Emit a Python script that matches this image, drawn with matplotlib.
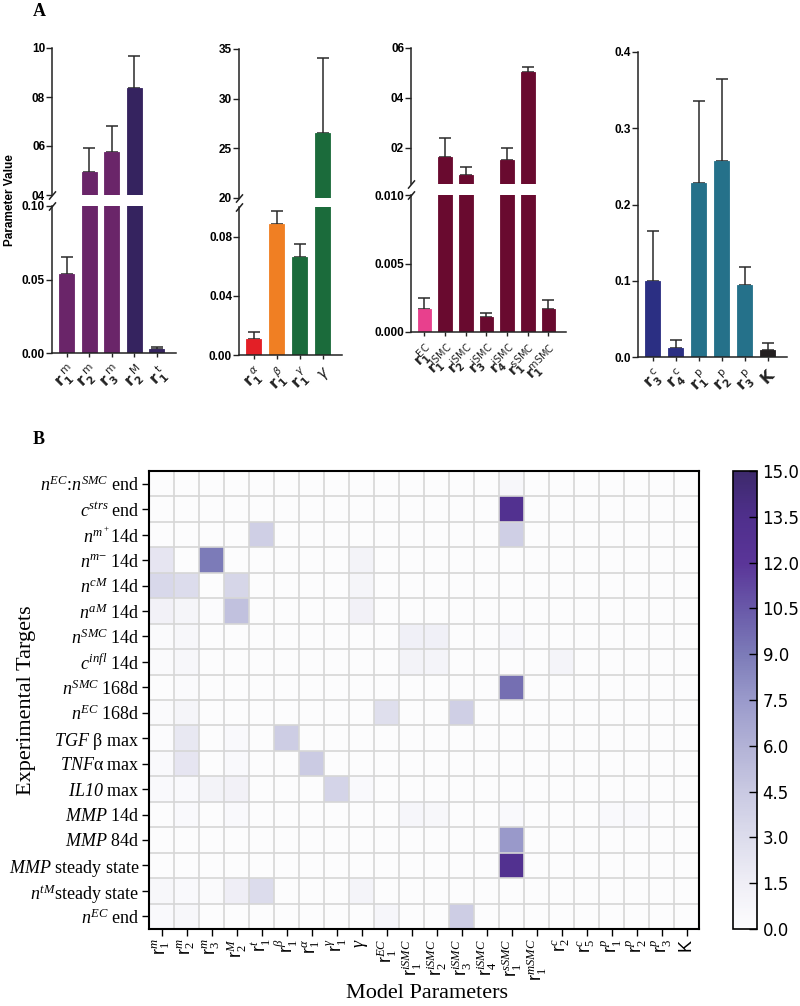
import numpy as np
import matplotlib.pyplot as plt
from matplotlib.colors import LinearSegmentedColormap

W, H = 800, 1006

plt.rcParams['mathtext.rm'] = 'Liberation Serif'
plt.rcParams['mathtext.it'] = 'Liberation Serif:italic'
plt.rcParams['mathtext.bf'] = 'Liberation Serif:bold'
plt.rcParams['mathtext.fallback'] = 'stix'

# ---------------- panel A data ----------------
g1_labels = [r'$\mathbf{r}_{\mathbf{1}}^{\ \mathrm{m}}$', r'$\mathbf{r}_{\mathbf{2}}^{\ \mathrm{m}}$',
             r'$\mathbf{r}_{\mathbf{3}}^{\ \mathrm{m}}$', r'$\mathbf{r}_{\mathbf{2}}^{\ \mathrm{M}}$',
             r'$\mathbf{r}_{\mathbf{1}}^{\ \mathrm{t}}$']
g1_vals = [0.054, 0.494, 0.576, 0.837, 0.003]
g1_err = [0.011, 0.096, 0.104, 0.130, 0.0008]
g1_cols = ['#6a2569', '#6a2569', '#6a2569', '#35235f', '#35235f']

g2_labels = [r'$\mathbf{r}_{\mathbf{1}}^{\ \alpha}$', r'$\mathbf{r}_{\mathbf{1}}^{\ \beta}$',
             r'$\mathbf{r}_{\mathbf{1}}^{\ \gamma}$', r'$\gamma$']
g2_vals = [0.0105, 0.0888, 0.0664, 26.5]
g2_err = [0.005, 0.0088, 0.0086, 7.6]
g2_cols = ['#e31f26', '#f07f23', '#1b6b3b', '#1b6b3b']

g3_labels = [r'$\mathbf{r}_{\mathbf{1}}^{\mathrm{EC}}$', r'$\mathbf{r}_{\mathbf{1}}^{\mathrm{iSMC}}$',
             r'$\mathbf{r}_{\mathbf{2}}^{\mathrm{iSMC}}$', r'$\mathbf{r}_{\mathbf{3}}^{\mathrm{iSMC}}$',
             r'$\mathbf{r}_{\mathbf{4}}^{\mathrm{iSMC}}$', r'$\mathbf{r}_{\mathbf{1}}^{\mathrm{sSMC}}$',
             r'$\mathbf{r}_{\mathbf{1}}^{\mathrm{mSMC}}$']
g3_vals = [0.0017, 0.164, 0.092, 0.0011, 0.152, 0.504, 0.0017]
g3_err = [0.0008, 0.076, 0.032, 0.0003, 0.046, 0.020, 0.0006]
g3_cols = ['#e8408d'] + ['#690a2f'] * 6

g4_labels = [r'$\mathbf{r}_{\mathbf{3}}^{\ \mathrm{c}}$', r'$\mathbf{r}_{\mathbf{4}}^{\ \mathrm{c}}$',
             r'$\mathbf{r}_{\mathbf{1}}^{\ \mathrm{p}}$', r'$\mathbf{r}_{\mathbf{2}}^{\ \mathrm{p}}$',
             r'$\mathbf{r}_{\mathbf{3}}^{\ \mathrm{p}}$', r'$\mathbf{K}$']
g4_vals = [0.100, 0.012, 0.228, 0.257, 0.095, 0.009]
g4_err = [0.065, 0.010, 0.108, 0.107, 0.023, 0.010]
g4_cols = ['#2b2f83', '#2b2f83', '#25718a', '#25718a', '#25718a', '#231f20']

# ---------------- panel B data ----------------
targets = [r'$n^{EC}$:$n^{SMC}$ end', r'$c^{strs}$ end', r'$n^{m^+}$14d', r'$n^{m\mathrm{-}}$ 14d',
           r'$n^{cM}$ 14d', r'$n^{aM}$ 14d', r'$n^{SMC}$ 14d', r'$c^{infl}$ 14d',
           r'$n^{SMC}$ 168d', r'$n^{EC}$ 168d', r'$TGF$ β max', r'$TNF$α max',
           r'IL10 $\mathrm{max}$', r'$MMP$ 14d', r'$MMP$ 84d', r'$MMP$ steady state',
           r'$n^{tM}$steady state', r'$n^{EC}$ end']
params = [r'r$_1^{m}$', r'r$_2^{m}$', r'r$_3^{m}$', r'r$_2^{M}$', r'r$_1^{t}$', r'r$_1^{\beta}$',
          r'r$_1^{\alpha}$', r'r$_1^{\gamma}$', r'$\gamma$', r'r$_1^{EC}$', r'r$_1^{iSMC}$',
          r'r$_2^{iSMC}$', r'r$_3^{iSMC}$', r'r$_4^{iSMC}$', r'r$_1^{sSMC}$', r'r$_1^{mSMC}$',
          r'r$_2^{c}$', r'r$_5^{c}$', r'r$_1^{p}$', r'r$_2^{p}$', r'r$_3^{p}$', 'K']

heat = np.array([
    # r1m  r2m  r3m  r2M  r1t  r1b  r1a  r1g   g    EC   i1   i2   i3   i4   sS    mS   r2c  r5c  r1p  r2p  r3p  K
    [0.1, 0.1, 0.1, 0.1, 0.1, 0.1, 0.1, 0.1, 0.1, 0.1, 0.1, 0.1, 0.1, 0.1, 0.6, 0.1, 0.1, 0.1, 0.1, 0.1, 0.1, 0.1],
    [0.1, 0.1, 0.1, 0.1, 0.1, 0.1, 0.1, 0.1, 0.1, 0.1, 0.1, 0.1, 0.1, 0.1, 13.0, 0.1, 0.1, 0.1, 0.1, 0.1, 0.1, 0.1],
    [0.1, 0.1, 0.1, 0.1, 4.0, 0.1, 0.1, 0.1, 0.1, 0.1, 0.1, 0.1, 0.1, 0.1, 4.0, 0.1, 0.1, 0.1, 0.1, 0.1, 0.1, 0.1],
    [2.2, 0.1, 9.0, 0.1, 0.1, 0.1, 0.1, 0.1, 1.0, 0.1, 0.1, 0.1, 0.1, 0.1, 0.1, 0.1, 0.1, 0.1, 0.1, 0.1, 0.1, 0.1],
    [3.3, 3.0, 0.1, 3.5, 0.1, 0.1, 0.1, 0.1, 0.8, 0.1, 0.1, 0.1, 0.1, 0.1, 0.1, 0.1, 0.1, 0.1, 0.1, 0.1, 0.1, 0.1],
    [1.2, 0.8, 0.2, 5.0, 0.1, 0.1, 0.1, 0.1, 1.2, 0.1, 0.1, 0.1, 0.1, 0.1, 0.1, 0.1, 0.1, 0.1, 0.1, 0.1, 0.1, 0.1],
    [0.3, 0.6, 0.1, 0.1, 0.1, 0.1, 0.1, 0.1, 0.1, 0.1, 1.3, 1.3, 0.1, 0.1, 0.4, 0.1, 0.1, 0.1, 0.1, 0.1, 0.1, 0.1],
    [0.3, 0.6, 0.1, 0.1, 0.1, 0.1, 0.1, 0.1, 0.1, 0.1, 1.0, 0.9, 0.1, 0.1, 0.1, 0.1, 0.9, 0.1, 0.1, 0.1, 0.1, 0.1],
    [0.1, 0.3, 0.1, 0.1, 0.1, 0.1, 0.1, 0.1, 0.1, 0.1, 0.1, 0.1, 0.1, 0.1, 9.5, 0.1, 0.1, 0.1, 0.1, 0.1, 0.1, 0.1],
    [0.3, 0.8, 0.1, 0.1, 0.1, 0.1, 0.1, 0.1, 0.1, 2.7, 0.1, 0.1, 4.0, 0.1, 0.1, 0.1, 0.1, 0.1, 0.1, 0.1, 0.1, 0.1],
    [0.2, 2.0, 0.1, 0.4, 0.1, 4.2, 0.1, 0.1, 0.1, 0.1, 0.1, 0.1, 0.1, 0.1, 0.1, 0.1, 0.1, 0.1, 0.1, 0.1, 0.1, 0.1],
    [0.4, 2.2, 0.1, 0.4, 0.1, 0.1, 4.3, 0.1, 0.1, 0.1, 0.1, 0.1, 0.1, 0.1, 0.1, 0.1, 0.1, 0.1, 0.1, 0.1, 0.1, 0.1],
    [0.4, 0.4, 1.0, 1.2, 0.1, 0.1, 0.1, 3.6, 0.4, 0.1, 0.1, 0.1, 0.1, 0.1, 0.1, 0.1, 0.1, 0.1, 0.1, 0.1, 0.1, 0.1],
    [0.1, 0.4, 0.1, 0.4, 0.1, 0.1, 0.1, 0.1, 0.1, 0.1, 0.7, 0.6, 0.1, 0.1, 0.4, 0.1, 0.1, 0.1, 0.4, 0.4, 0.1, 0.1],
    [0.1, 0.1, 0.1, 0.1, 0.1, 0.1, 0.1, 0.1, 0.1, 0.1, 0.1, 0.1, 0.1, 0.1, 7.5, 0.1, 0.1, 0.1, 0.1, 0.1, 0.1, 0.1],
    [0.1, 0.1, 0.1, 0.1, 0.1, 0.1, 0.1, 0.1, 0.1, 0.1, 0.1, 0.1, 0.1, 0.1, 13.0, 0.1, 0.1, 0.1, 0.1, 0.1, 0.1, 0.1],
    [0.6, 0.4, 0.3, 1.5, 3.0, 0.1, 0.1, 0.1, 0.9, 0.1, 0.1, 0.1, 0.1, 0.1, 0.1, 0.1, 0.1, 0.1, 0.1, 0.1, 0.1, 0.1],
    [0.4, 0.6, 0.1, 0.1, 0.1, 0.1, 0.1, 0.1, 0.1, 0.7, 0.1, 0.1, 4.2, 0.1, 0.1, 0.1, 0.1, 0.1, 0.1, 0.1, 0.1, 0.1],
])
cbar_ticks = np.arange(0, 15.01, 1.5)


def box(x0, y0, x1, y1):
    # pixel box, origin top-left -> figure fraction rect
    return [x0 / W, 1 - y1 / H, (x1 - x0) / W, (y1 - y0) / H]


fig = plt.figure(figsize=(W / 100, H / 100), dpi=100)

tick_font = dict(family='Liberation Sans', weight='bold', size=8.5)


def style(ax):
    for s in ['top', 'right']:
        ax.spines[s].set_visible(False)
    for s in ['left', 'bottom']:
        ax.spines[s].set_linewidth(1.1)
        ax.spines[s].set_color('#222222')
    ax.tick_params(axis='y', length=4, width=1, colors='#222222', pad=1)
    ax.tick_params(axis='x', length=3, width=1, colors='#222222')
    for t in ax.get_yticklabels():
        t.set_fontproperties(tick_font)
        t.set_color('black')


def bars(ax, vals, err, cols):
    x = np.arange(len(vals))
    ax.bar(x, vals, width=0.66, color=cols, edgecolor=cols, linewidth=0.6, zorder=2)
    ax.errorbar(x, vals, yerr=[np.zeros(len(vals)), err], fmt='none', ecolor='#2a2a2a',
                elinewidth=1.1, capsize=4, capthick=1.1, zorder=1)
    ax.set_xlim(-0.65, len(vals) - 1 + 0.85)


def xlabels(ax, labels, size=11):
    ax.set_xticks(np.arange(len(labels)))
    ax.set_xticklabels(labels, rotation=45, ha='right', va='top', rotation_mode='anchor',
                       fontsize=size, math_fontfamily='dejavusans')


def broken(px, yhi, ylo, vals, err, cols, labels, hi_lim, hi_ticks, hi_tl, lo_lim, lo_ticks, lo_tl,
           lsize=11):
    up = fig.add_axes(box(px[0], yhi[0], px[1], yhi[1]))
    lo = fig.add_axes(box(px[0], ylo[0], px[1], ylo[1]))
    for ax, lim, tk, tl in [(up, hi_lim, hi_ticks, hi_tl), (lo, lo_lim, lo_ticks, lo_tl)]:
        bars(ax, vals, err, cols)
        ax.set_ylim(*lim)
        ax.set_yticks(tk)
        ax.set_yticklabels(tl)
        style(ax)
    up.spines['bottom'].set_visible(False)
    up.tick_params(axis='x', bottom=False, labelbottom=False)
    xlabels(lo, labels, lsize)
    kw = dict(marker=[(-1, -1.2), (1, 1.2)], markersize=6, linestyle='none', color='#222222',
              mec='#222222', mew=1.1, clip_on=False)
    up.plot([0], [0], transform=up.transAxes, **kw)
    lo.plot([0], [1], transform=lo.transAxes, **kw)
    return up, lo


# ---------------- panel A ----------------
broken((52, 176), (48, 195), (206, 353), g1_vals, g1_err, g1_cols, g1_labels,
       (0.4, 1.0), [0.4, 0.6, 0.8, 1.0], ['04', '06', '08', '10'],
       (0, 0.10), [0, 0.05, 0.10], ['0.00', '0.05', '0.10'])
broken((239, 342), (49, 198), (207, 355), g2_vals, g2_err, g2_cols, g2_labels,
       (20, 35), [20, 25, 30, 35], ['20', '25', '30', '35'],
       (0, 0.10), [0, 0.04, 0.08], ['0.00', '0.04', '0.08'])
broken((411, 566), (48, 184), (195, 332), g3_vals, g3_err, g3_cols, g3_labels,
       (0.056, 0.6), [0.2, 0.4, 0.6], ['02', '04', '06'],
       (0, 0.010), [0, 0.005, 0.010], ['0.000', '0.005', '0.010'], lsize=10)

ax4 = fig.add_axes(box(638, 52, 787, 357))
bars(ax4, g4_vals, g4_err, g4_cols)
ax4.set_ylim(0, 0.4)
ax4.set_yticks([0, 0.1, 0.2, 0.3, 0.4])
ax4.set_yticklabels(['0.0', '0.1', '0.2', '0.3', '0.4'])
style(ax4)
xlabels(ax4, g4_labels)

fig.text(10 / W, 1 - 200 / H, 'Parameter Value', rotation=90, ha='center', va='center',
         family='Liberation Sans', weight='bold', size=8.5)
fig.text(33 / W, 1 - 11 / H, 'A', ha='left', va='center', family='Liberation Serif',
         weight='bold', size=13)
fig.text(33 / W, 1 - 440 / H, 'B', ha='left', va='center', family='Liberation Serif',
         weight='bold', size=13)

# ---------------- panel B ----------------
cmap = LinearSegmentedColormap.from_list('heat', ['#fdfdfe', '#efeef6', '#dcdcec', '#c9c9e2',
                                                  '#b2b2d6', '#9a9acb', '#7c7bb8', '#6959a9',
                                                  '#5a3598', '#4f2f8c', '#3d2a6c'])
axh = fig.add_axes(box(149, 471, 699, 929))
im = axh.imshow(heat, cmap=cmap, vmin=0, vmax=15, aspect='auto', interpolation='nearest')
axh.set_xticks(np.arange(len(params)))
axh.set_xticklabels(params, rotation=90, family='Liberation Sans', size=13, math_fontfamily='custom')
axh.set_yticks(np.arange(len(targets)))
axh.set_yticklabels(targets, family='Liberation Serif', size=13, math_fontfamily='custom')
axh.get_yticklabels()[12].set_fontstyle('italic')
axh.set_xticks(np.arange(-0.5, len(params)), minor=True)
axh.set_yticks(np.arange(-0.5, len(targets)), minor=True)
axh.grid(which='minor', color='#d6d6d6', linewidth=1.2)
axh.tick_params(which='minor', length=0)
axh.tick_params(which='major', length=5, width=1, direction='out', pad=2)
for s in axh.spines.values():
    s.set_linewidth(1.5)
fig.text(27 / W, 1 - 700 / H, 'Experimental Targets', rotation=90, ha='center', va='center',
         family='Liberation Serif', size=16)
fig.text(427 / W, 1 - 993 / H, 'Model Parameters', ha='center', va='center',
         family='Liberation Serif', size=16)

cax = fig.add_axes(box(733, 471, 757, 929))
cb = fig.colorbar(im, cax=cax, ticks=cbar_ticks, format='%.1f')
cb.outline.set_linewidth(1.2)
cax.tick_params(direction='in', length=6, width=1, labelsize=12, pad=4)

fig.savefig('out.png', dpi=100)
